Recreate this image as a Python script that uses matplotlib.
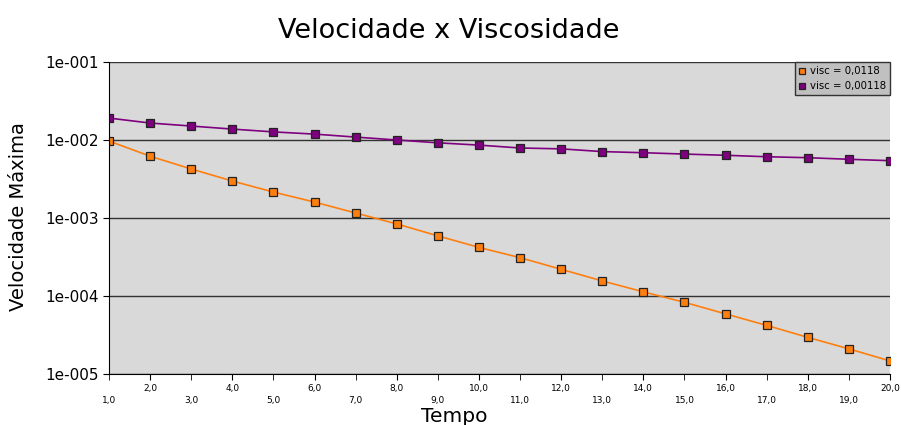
import matplotlib
matplotlib.use("Agg")
import matplotlib.pyplot as plt
from matplotlib.ticker import FixedLocator, FixedFormatter, NullFormatter

tempo = list(range(1, 21))
visc_0118 = [0.0097, 0.0062, 0.00425, 0.00298, 0.00215, 0.0016, 0.00116, 0.00084,
             0.00059, 0.00042, 0.00031, 0.00022, 0.000156, 0.000113, 8.3e-5, 5.9e-5,
             4.2e-5, 2.95e-5, 2.1e-5, 1.47e-5]
visc_00118 = [0.0191, 0.0165, 0.0151, 0.0138, 0.0127, 0.0119, 0.0109, 0.0100,
              0.0092, 0.0086, 0.0079, 0.0077, 0.0071, 0.00687, 0.0066, 0.00637,
              0.0061, 0.00593, 0.00566, 0.00543]
ytick_vals = [1e-5, 1e-4, 1e-3, 1e-2, 1e-1]
ytick_labels = ["1e-005", "1e-004", "1e-003", "1e-002", "1e-001"]

fig = plt.figure(figsize=(9.01, 4.25), dpi=100)
ax = fig.add_axes([109/901, 1-374/425, (890-109)/901, (374-62)/425])
ax.set_facecolor("#d9d9d9")

ax.plot(tempo, visc_0118, color="#ff7f0e", lw=1.2, marker="s", ms=5.5,
        mfc="#ff7f0e", mec="#222222", mew=0.9, label="visc = 0,0118")
ax.plot(tempo, visc_00118, color="#7f007f", lw=1.2, marker="s", ms=5.5,
        mfc="#7f007f", mec="#222222", mew=0.9, label="visc = 0,00118")

ax.set_yscale("log")
ax.set_ylim(1e-5, 1e-1)
ax.set_xlim(1, 20)
ax.yaxis.set_major_locator(FixedLocator(ytick_vals))
ax.yaxis.set_major_formatter(FixedFormatter(ytick_labels))
ax.yaxis.set_minor_locator(FixedLocator([]))
ax.yaxis.set_minor_formatter(NullFormatter())
ax.grid(axis="y", which="major", color="#333333", lw=1.0)
ax.tick_params(axis="y", labelsize=11, length=4, direction="out")

even = [t for t in tempo if t % 2 == 0]
odd = [t for t in tempo if t % 2 == 1]
ax.xaxis.set_major_locator(FixedLocator(even))
ax.xaxis.set_major_formatter(FixedFormatter([f"{t},0" for t in even]))
ax.xaxis.set_minor_locator(FixedLocator(odd))
ax.xaxis.set_minor_formatter(FixedFormatter([f"{t},0" for t in odd]))
ax.tick_params(axis="x", which="major", labelsize=6.5, length=4, pad=3)
ax.tick_params(axis="x", which="minor", labelsize=6.5, length=4, pad=12)

for s in ["top", "right"]:
    ax.spines[s].set_visible(False)
ax.spines["left"].set_color("black")
ax.spines["bottom"].set_color("black")

fig.text(454/901, 1-416/425, "Tempo", fontsize=14.5, ha="center", va="center")
fig.text(19/901, 1-217/425, "Velocidade Máxima", fontsize=14, rotation=90,
         ha="center", va="center")
fig.text(449/901, 1-38/425, "Velocidade x Viscosidade", fontsize=19.5,
         ha="center", va="baseline")

leg = ax.legend(loc="upper right", fontsize=7.3, frameon=True, fancybox=False,
                handlelength=0.6, handletextpad=0.5, borderpad=0.4,
                labelspacing=0.5, borderaxespad=0.0, markerscale=0.9)
leg.get_frame().set_facecolor("#c0c0c0")
leg.get_frame().set_edgecolor("#333333")
leg.get_frame().set_alpha(1)
for h in leg.legend_handles:
    h.set_linestyle("none")

fig.savefig("out.png", dpi=100)
